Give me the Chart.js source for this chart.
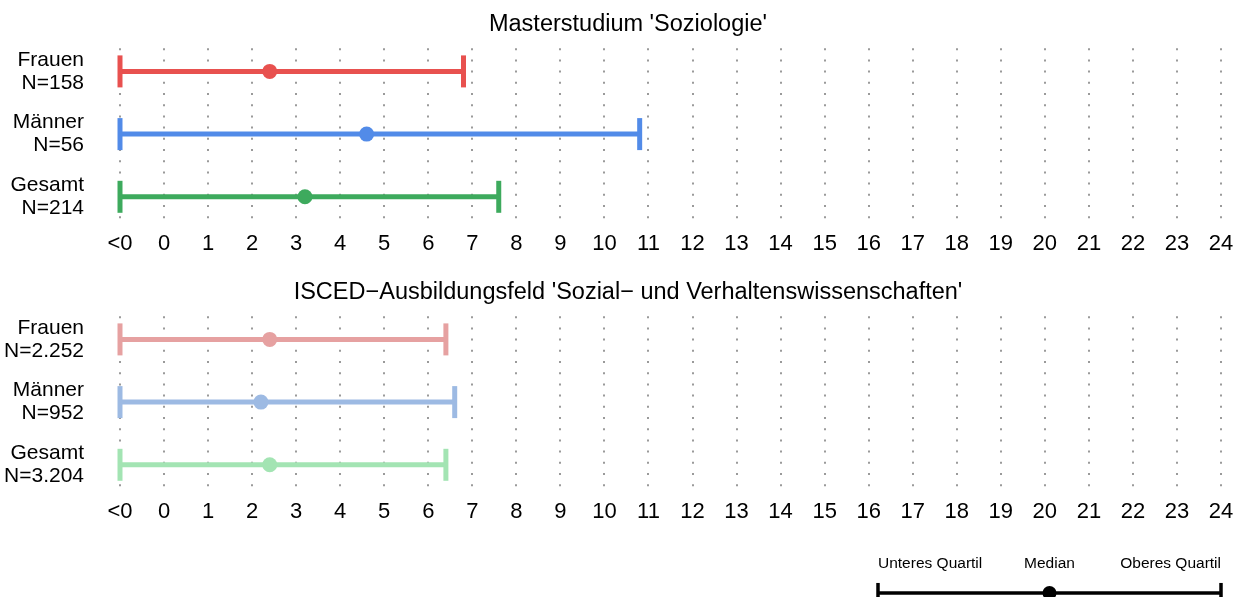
<!DOCTYPE html>
<html>
<head>
<meta charset="utf-8">
<script src="https://cdn.jsdelivr.net/npm/chart.js@4.4.1/dist/chart.umd.min.js"></script>
<style>
  html, body { margin: 0; padding: 0; background: #fff; overflow: hidden; }
  body { width: 1236px; height: 597px; position: relative; overflow: hidden; }
  .box { position: absolute; }
</style>
</head>
<body>
<div class="box" style="left:0;top:0;width:1246px;height:260px;"><canvas id="c1"></canvas></div>
<div class="box" style="left:0;top:268px;width:1246px;height:260px;"><canvas id="c2"></canvas></div>
<div class="box" style="left:860px;top:544px;width:376px;height:120px;"><canvas id="c3"></canvas></div>
<script>
// ---- data ----
const rowLabels = ['Frauen', 'Männer', 'Gesamt'];
const tickLabels = ['<0','0','1','2','3','4','5','6','7','8','9','10','11','12','13','14','15','16','17','18','19','20','21','22','23','24'];

const sozTitle = "Masterstudium 'Soziologie'";
const sozN = ['N=158', 'N=56', 'N=214'];
const sozLower = [-1, -1, -1];
const sozMedian = [2.4, 4.6, 3.2];
const sozUpper = [6.8, 10.8, 7.6];

const iscedTitle = "ISCED\u2212Ausbildungsfeld 'Sozial\u2212 und Verhaltenswissenschaften'";
const iscedN = ['N=2.252', 'N=952', 'N=3.204'];
const iscedLower = [-1, -1, -1];
const iscedMedian = [2.4, 2.2, 2.4];
const iscedUpper = [6.4, 6.6, 6.4];

const legendLabels = ['Unteres Quartil', 'Median', 'Oberes Quartil'];
const legendValues = [0, 1, 2];

// ---- styles ----
const sozColors = ['#E8514F', '#528BE8', '#3DAA5D'];
const iscedColors = ['#E6A1A1', '#9DBAE3', '#A3E4B3'];
const FONT = "'Liberation Sans', Arial, sans-serif";

// let the row labels extend left of the y-axis box (they are right-aligned to the axis)
const unclipY = {
  id: 'unclipY',
  afterLayout(chart) { if (chart.scales.y) chart.scales.y.left = 0; }
};

function panel(canvasId, title, nLabels, lower, median, upper, colors) {
  const datasets = rowLabels.map((r, i) => ({
    type: 'scatter',
    showLine: true,
    data: [{x: lower[i], y: i}, {x: upper[i], y: i}],
    borderColor: colors[i],
    borderWidth: 5,
    pointStyle: 'line',
    rotation: 90,
    pointRadius: 16,
    pointHoverRadius: 16,
    pointBorderWidth: 5,
    pointBorderColor: colors[i],
    pointBackgroundColor: colors[i],
    clip: false,
    order: 2
  }));
  datasets.push({
    type: 'scatter',
    data: median.map((m, i) => ({x: m, y: i})),
    pointStyle: 'circle',
    pointRadius: 7.5,
    pointHoverRadius: 7.5,
    pointBorderWidth: 0,
    backgroundColor: colors,
    borderColor: colors,
    clip: false,
    order: 1
  });
  return new Chart(document.getElementById(canvasId), {
    type: 'scatter',
    data: { datasets },
    plugins: [unclipY],
    options: {
      responsive: true,
      maintainAspectRatio: false,
      animation: false,
      events: [],
      layout: { padding: { left: 35, right: 25, top: 0, bottom: 2 } },
      plugins: {
        legend: { display: false },
        tooltip: { enabled: false },
        title: {
          display: true,
          text: title,
          color: '#000',
          font: { family: FONT, size: 23.5, weight: 'normal', lineHeight: 1.2 },
          padding: { top: 10, bottom: 10 }
        }
      },
      scales: {
        x: {
          type: 'linear',
          min: -1,
          max: 24,
          afterBuildTicks: (s) => { s.ticks = tickLabels.map((_, i) => ({ value: i - 1 })); },
          afterFit: (s) => { s.height = 38; },
          ticks: {
            autoSkip: false,
            maxRotation: 0,
            minRotation: 0,
            padding: 11,
            color: '#000',
            font: { family: FONT, size: 22, lineHeight: 1.2 },
            callback: (v, i) => tickLabels[i]
          },
          grid: { display: true, color: '#9a9a9a', lineWidth: 2, drawTicks: false, tickLength: 0 },
          border: { display: false, dash: [2, 9.2], dashOffset: 0 }
        },
        y: {
          type: 'linear',
          reverse: true,
          min: -0.37,
          max: 2.37,
          afterBuildTicks: (s) => { s.ticks = rowLabels.map((_, i) => ({ value: i })); },
          afterFit: (s) => { s.width = 85; s.paddingTop = 0; s.paddingBottom = 0; },
          ticks: {
            padding: 36,
            color: '#000',
            font: { family: FONT, size: 21, lineHeight: 1.1 },
            callback: (v) => [rowLabels[v], nLabels[v]]
          },
          grid: { display: false, drawTicks: false },
          border: { display: false }
        }
      }
    }
  });
}

panel('c1', sozTitle, sozN, sozLower, sozMedian, sozUpper, sozColors);
panel('c2', iscedTitle, iscedN, iscedLower, iscedMedian, iscedUpper, iscedColors);

// ---- key ----
new Chart(document.getElementById('c3'), {
  type: 'scatter',
  data: {
    datasets: [
      {
        showLine: true,
        data: [{x: legendValues[0], y: 0}, {x: legendValues[2], y: 0}],
        borderColor: '#000',
        borderWidth: 3.5,
        pointStyle: 'line',
        rotation: 90,
        pointRadius: 10,
        pointBorderWidth: 3.5,
        pointBorderColor: '#000',
        clip: false,
        order: 2
      },
      {
        data: [{x: legendValues[1], y: 0}],
        pointStyle: 'circle',
        pointRadius: 7,
        pointBorderWidth: 0,
        backgroundColor: '#000',
        clip: false,
        order: 1
      }
    ]
  },
  options: {
    responsive: true,
    maintainAspectRatio: false,
    animation: false,
    events: [],
    layout: { padding: { left: 18, right: 15, top: 0, bottom: 0 } },
    plugins: { legend: { display: false }, tooltip: { enabled: false } },
    scales: {
      x: {
        type: 'linear',
        position: 'top',
        min: 0,
        max: 2,
        afterBuildTicks: (s) => { s.ticks = legendValues.map(v => ({ value: v })); },
        afterFit: (s) => { s.paddingLeft = 0; s.paddingRight = 0; },
        ticks: {
          align: 'inner',
          maxRotation: 0,
          autoSkip: false,
          padding: 10,
          color: '#000',
          font: { family: FONT, size: 15.5, lineHeight: 1.2 },
          callback: (v, i) => legendLabels[i]
        },
        grid: { display: false, drawTicks: false },
        border: { display: false }
      },
      y: {
        type: 'linear',
        display: false,
        min: -1,
        max: 0.18
      }
    }
  }
});
</script>
</body>
</html>
